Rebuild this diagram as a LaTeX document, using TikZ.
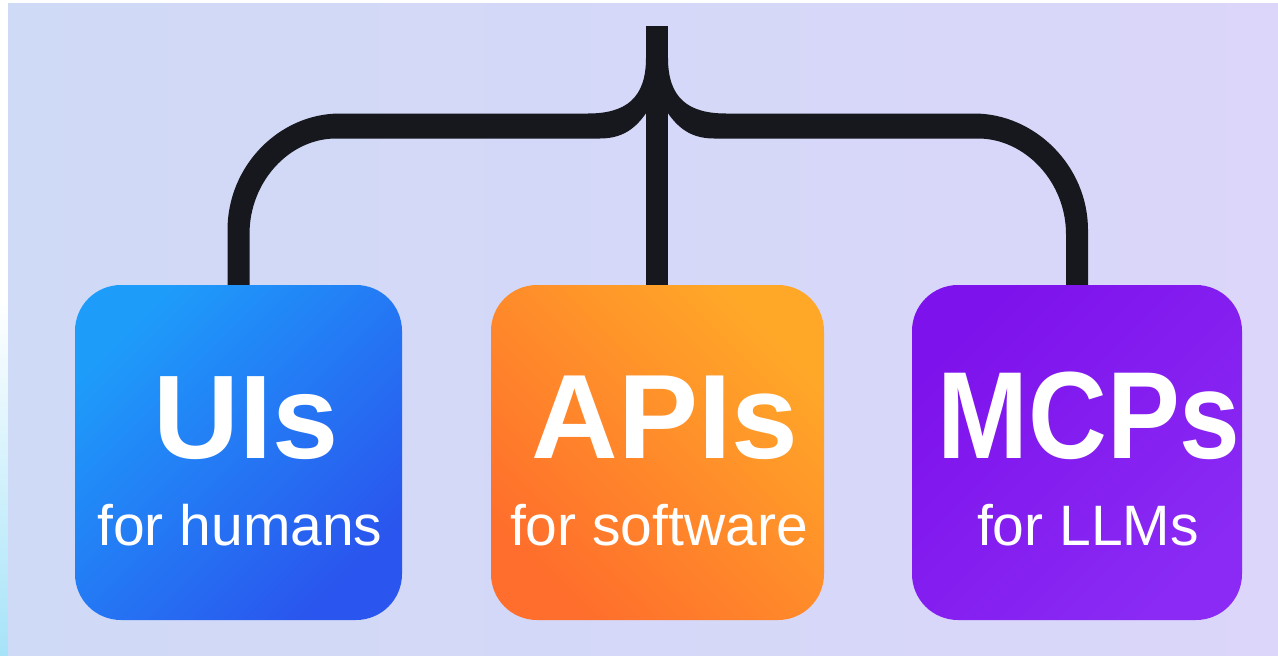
\documentclass[tikz,border=0pt]{standalone}
\usepackage{fontspec}
\usepackage{graphicx}
\setmainfont{Liberation Sans}
\usetikzlibrary{calc}
\definecolor{ink}{HTML}{16181D}
\definecolor{bgl}{HTML}{CFDAF6}
\definecolor{bgr}{HTML}{DBD6FA}
\definecolor{edgecyan}{HTML}{A6E3F8}
\definecolor{blueA}{HTML}{1E9CFA}
\definecolor{blueB}{HTML}{2A55EE}
\definecolor{orangeA}{HTML}{FFA828}
\definecolor{orangeB}{HTML}{FF6E2C}
\definecolor{purpleA}{HTML}{7E12EC}
\definecolor{purpleB}{HTML}{8A2AF4}
\newcommand{\armpath}[1]{%
  ({#1-11},285) -- ({#1-11},230)
  .. controls ({#1-11},166) and (279,113.5) .. (340,113.5)
  -- (588,113.5) .. controls (626,113.5) and (646,98) .. (646,58)
  -- (652,58) -- (652,104)
  .. controls (640,124) and (627,138.5) .. (600,138.5)
  -- (336,138.5) .. controls (289,138.5) and ({#1+11},182) .. ({#1+11},234)
  -- ({#1+11},285) -- cycle}
\begin{document}
\begin{tikzpicture}[x=1pt,y=-1pt,
  card/.style={rounded corners=46pt, minimum height=335pt, inner sep=0pt, draw=none, shading=axis},
  title/.style={text=white, anchor=base, inner sep=0pt, font=\bfseries\fontsize{#1}{#1}\selectfont},
  sub/.style={text=white, anchor=base, inner sep=0pt, font=\fontsize{57}{57}\selectfont}]
\useasboundingbox (0,0) rectangle (1278,656);
% background
\fill[white] (0,0) rectangle (1278,656);
\shade[top color=white, bottom color=edgecyan] (0,300) rectangle (8,656);
\shade[left color=bgl, right color=bgr] (8,3) rectangle (1278,656);
% brace connector (drawn first, cards cover its ends)
\coordinate (top) at (657,26);
\coordinate (stemfoot) at (657,285);
\fill[ink] \armpath{238.5};
\begin{scope}[shift={(1314,0)}, xscale=-1]
\fill[ink] \armpath{237};
\end{scope}
\fill[ink] ($(top)+(-11,0)$) rectangle ($(stemfoot)+(11,0)$);
% cards
\node[card, minimum width=327pt, top color=blueA, bottom color=blueB, shading angle=45] (ui) at (238.5,452.5) {};
\node[card, minimum width=333pt, top color=orangeA, bottom color=orangeB, shading angle=-45] (api) at (657.5,452.5) {};
\node[card, minimum width=330pt, top color=purpleA, bottom color=purpleB, shading angle=45] (mcp) at (1077,452.5) {};
% texts
\node[title=119] (uit) at (246,458) {UIs};
\node[title=120] (apit) at (665,458) {APIs};
\node[title=124] (mcpt) at (1089,458) {\scalebox{0.88}[1]{MCPs}};
\node[sub] (uis) at (240,545) {for humans};
\node[sub] (apis) at (659,545) {for software};
\node[sub] (mcps) at (1088,545) {for LLMs};
\end{tikzpicture}
\end{document}
